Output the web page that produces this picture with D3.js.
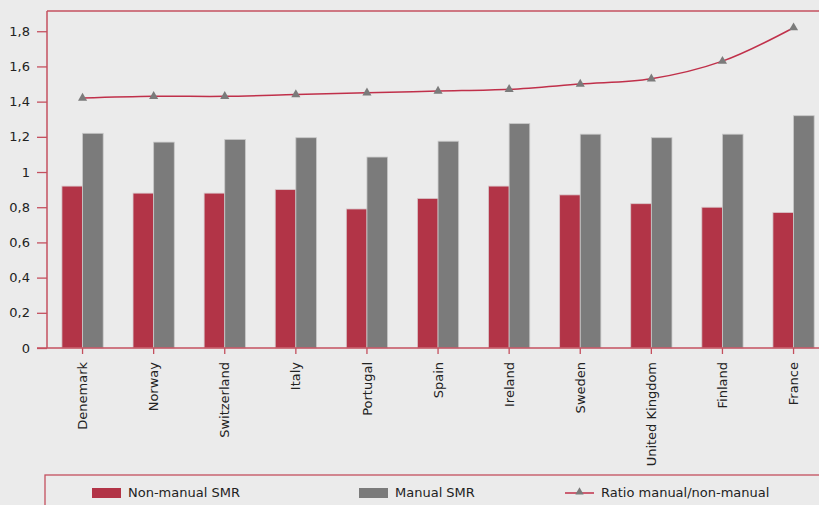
<!DOCTYPE html>
<html>
<head>
<meta charset="utf-8">
<script src="https://cdn.jsdelivr.net/npm/d3@7"></script>
<style>
  html, body { margin: 0; padding: 0; background: #ebebeb; }
  svg { display: block; font-family: "DejaVu Sans", sans-serif; }
</style>
</head>
<body>
<div id="chart"></div>
<script>
// data
var countries = ["Denemark", "Norway", "Switzerland", "Italy", "Portugal", "Spain",
                 "Ireland", "Sweden", "United Kingdom", "Finland", "France"];
var nonManual = [0.92, 0.88, 0.88, 0.90, 0.79, 0.85, 0.92, 0.87, 0.82, 0.80, 0.77];
var manual    = [1.22, 1.17, 1.185, 1.195, 1.085, 1.175, 1.275, 1.215, 1.195, 1.215, 1.32];
var ratio     = [1.42, 1.43, 1.43, 1.44, 1.45, 1.46, 1.47, 1.50, 1.53, 1.63, 1.82];
var yTicks    = [0, 0.2, 0.4, 0.6, 0.8, 1, 1.2, 1.4, 1.6, 1.8];

var width = 819, height = 505;
var red = "#b23447", grey = "#7b7b7b", axisCol = "#c4505f";

var margin = { top: 11, left: 47, bottom: 348 };
var band = 71.1;

var svg = d3.select("#chart").append("svg")
    .attr("width", width)
    .attr("height", height);

svg.append("rect").attr("width", width).attr("height", height).attr("fill", "#ebebeb");

var x = d3.scaleBand()
    .domain(countries)
    .range([margin.left, margin.left + band * countries.length])
    .padding(0);

var x1 = d3.scaleBand()
    .domain(["nonManual", "manual"])
    .range([x.bandwidth() * 0.21, x.bandwidth() * 0.79]);

var y = d3.scaleLinear()
    .domain([0, 1.915])
    .range([margin.bottom, margin.top]);

var rows = countries.map(function(c, i) {
  return { country: c, nonManual: nonManual[i], manual: manual[i], ratio: ratio[i] };
});

// bars
var groups = svg.append("g").selectAll("g")
    .data(rows)
    .enter().append("g")
    .attr("transform", function(d) { return "translate(" + x(d.country) + ",0)"; });

groups.append("rect")
    .attr("x", x1("nonManual"))
    .attr("y", function(d) { return y(d.nonManual); })
    .attr("width", x1.bandwidth())
    .attr("height", function(d) { return y(0) - y(d.nonManual); })
    .attr("fill", red)
    .attr("stroke", "#d8c8cb")
    .attr("stroke-width", 0.8);

groups.append("rect")
    .attr("x", x1("manual"))
    .attr("y", function(d) { return y(d.manual); })
    .attr("width", x1.bandwidth())
    .attr("height", function(d) { return y(0) - y(d.manual); })
    .attr("fill", grey)
    .attr("stroke", "#c8c8c8")
    .attr("stroke-width", 0.8);

// y axis
var yAxis = svg.append("g")
    .attr("transform", "translate(" + margin.left + ",0)")
    .call(d3.axisLeft(y)
        .tickValues(yTicks)
        .tickSize(10)
        .tickPadding(7)
        .tickFormat(function(d) { return d3.format(".1~f")(d).replace(".", ","); }));
yAxis.select(".domain").remove();
yAxis.selectAll(".tick line").attr("stroke", axisCol).attr("stroke-width", 1.3);
yAxis.selectAll(".tick text")
    .attr("fill", "#222")
    .attr("font-size", "13px")
    .attr("font-family", "DejaVu Sans, sans-serif");

// frame lines
svg.append("line")
    .attr("x1", margin.left).attr("x2", margin.left)
    .attr("y1", margin.top).attr("y2", margin.bottom)
    .attr("stroke", axisCol).attr("stroke-width", 1.5);
svg.append("line")
    .attr("x1", margin.left).attr("x2", width)
    .attr("y1", margin.top).attr("y2", margin.top)
    .attr("stroke", axisCol).attr("stroke-width", 1.5);

// x axis
var xAxis = svg.append("g")
    .attr("transform", "translate(0," + margin.bottom + ")")
    .call(d3.axisBottom(x).tickSize(6).tickSizeOuter(0));
xAxis.select(".domain").remove();
xAxis.selectAll(".tick line").attr("stroke", axisCol).attr("stroke-width", 1.3);
xAxis.selectAll(".tick text")
    .attr("fill", "#222")
    .attr("font-size", "13px")
    .attr("font-family", "DejaVu Sans, sans-serif")
    .attr("text-anchor", "end")
    .attr("transform", "rotate(-90)")
    .attr("x", -14)
    .attr("y", 0)
    .attr("dy", "0.35em");

svg.append("line")
    .attr("x1", 37).attr("x2", width)
    .attr("y1", margin.bottom).attr("y2", margin.bottom)
    .attr("stroke", axisCol).attr("stroke-width", 1.5);

// ratio line
var line = d3.line()
    .x(function(d) { return x(d.country) + x.bandwidth() / 2; })
    .y(function(d) { return y(d.ratio); })
    .curve(d3.curveCatmullRom.alpha(0.5));

svg.append("path")
    .datum(rows)
    .attr("d", line)
    .attr("fill", "none")
    .attr("stroke", "#c0304a")
    .attr("stroke-width", 1.5);

svg.append("g").selectAll("path")
    .data(rows)
    .enter().append("path")
    .attr("d", d3.symbol().type(d3.symbolTriangle).size(36))
    .attr("transform", function(d) {
      return "translate(" + (x(d.country) + x.bandwidth() / 2) + "," + y(d.ratio) + ")";
    })
    .attr("fill", grey);

// legend
var legend = svg.append("g");
legend.append("rect")
    .attr("x", 45).attr("y", 475)
    .attr("width", 800).attr("height", 60)
    .attr("fill", "none")
    .attr("stroke", axisCol)
    .attr("stroke-width", 1.3);

legend.append("rect").attr("x", 92).attr("y", 488).attr("width", 29).attr("height", 10).attr("fill", red);
legend.append("text").attr("x", 128).attr("y", 497).text("Non-manual SMR");

legend.append("rect").attr("x", 359).attr("y", 488).attr("width", 29).attr("height", 10).attr("fill", grey);
legend.append("text").attr("x", 395).attr("y", 497).text("Manual SMR");

legend.append("line").attr("x1", 565).attr("x2", 594).attr("y1", 493).attr("y2", 493)
    .attr("stroke", "#c0304a").attr("stroke-width", 1.5);
legend.append("path")
    .attr("d", d3.symbol().type(d3.symbolTriangle).size(30))
    .attr("transform", "translate(579.5,492)")
    .attr("fill", grey);
legend.append("text").attr("x", 601).attr("y", 497).text("Ratio manual/non-manual");

legend.selectAll("text")
    .attr("font-size", "13px")
    .attr("fill", "#222");
</script>
</body>
</html>
